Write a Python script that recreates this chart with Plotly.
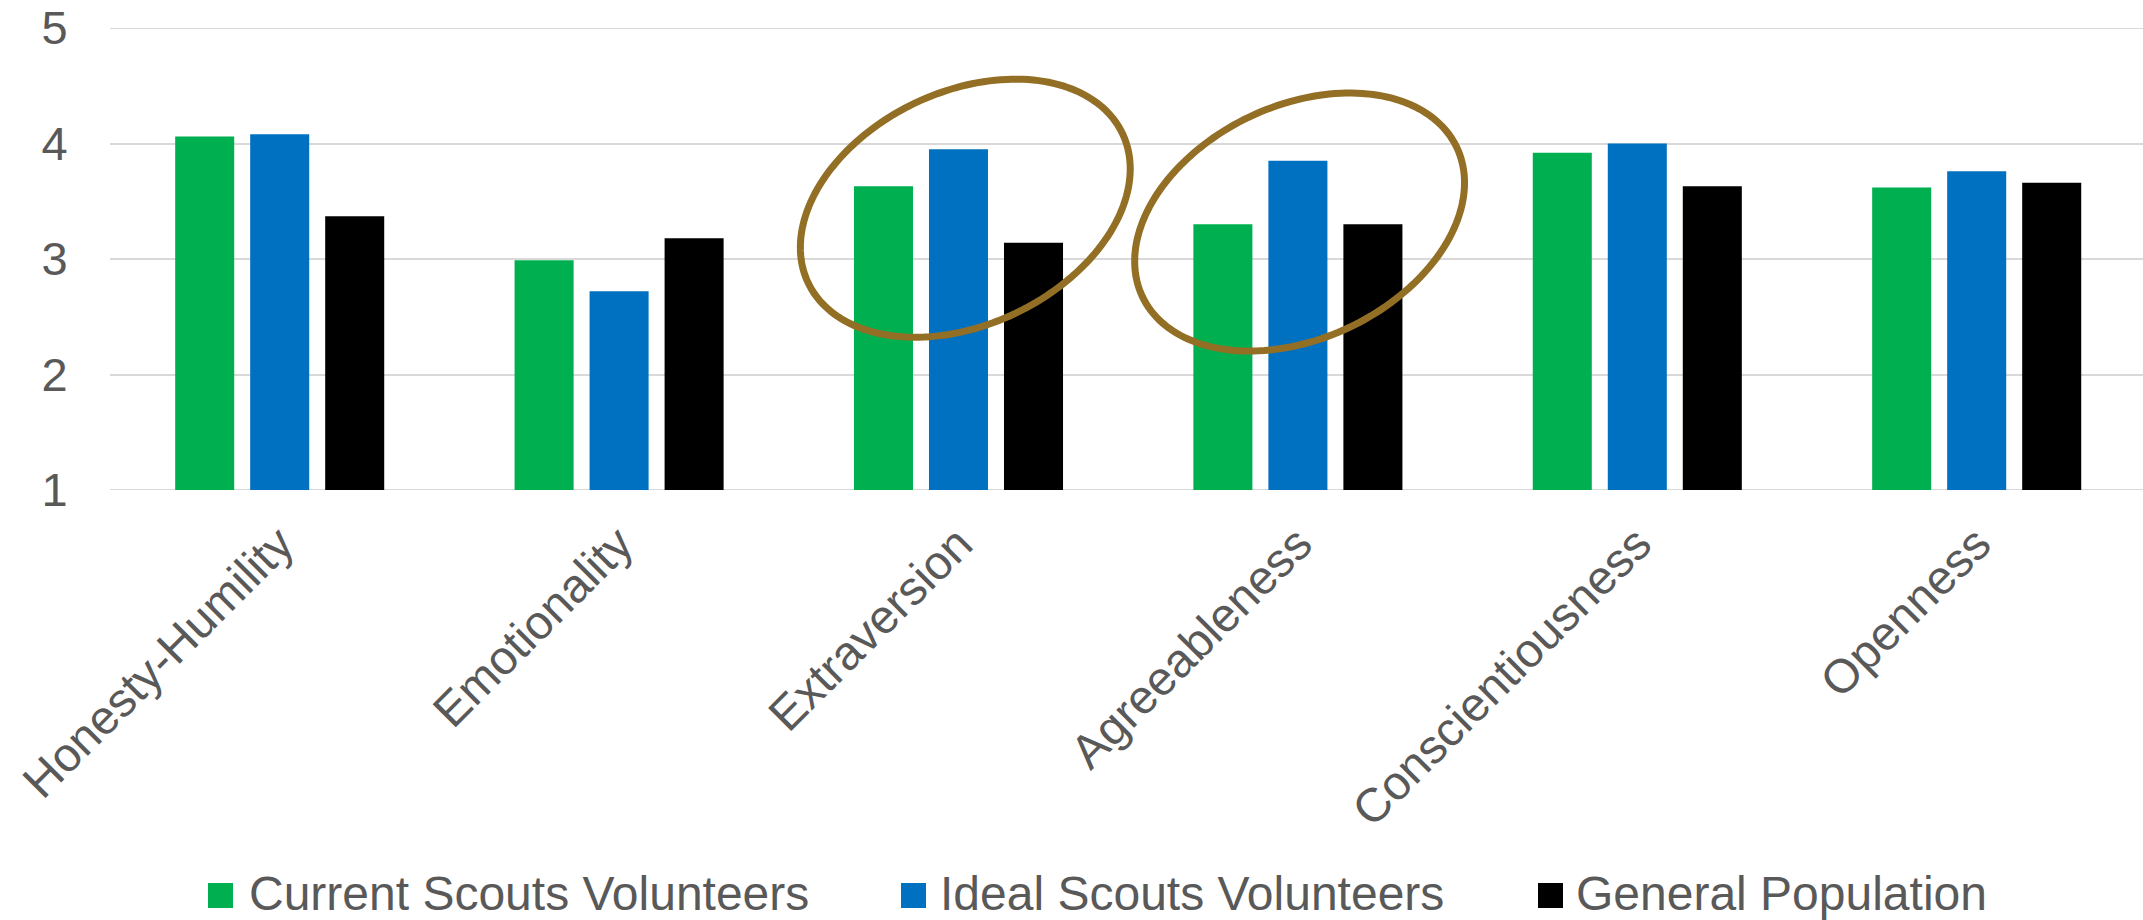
import numpy as np
import plotly.graph_objects as go

# HEXACO trait means
traits = ["Honesty-Humility", "Emotionality", "Extraversion",
          "Agreeableness", "Conscientiousness", "Openness"]
series_names = ["Current Scouts Volunteers", "Ideal Scouts Volunteers", "General Population"]
current_volunteers = [4.06, 2.99, 3.63, 3.30, 3.92, 3.62]
ideal_volunteers = [4.08, 2.72, 3.95, 3.85, 4.00, 3.76]
general_population = [3.37, 3.18, 3.14, 3.30, 3.63, 3.66]
y_ticks = [1, 2, 3, 4, 5]
highlighted = ["Extraversion", "Agreeableness"]

colors = ["#00B050", "#0070C0", "#000000"]
text_color = "#595959"
grid_color = "#D9D9D9"
ring_color = "#936F25"
font_family = "Arial, 'Liberation Sans', sans-serif"

W, H = 2143, 920
M_L, M_R, M_T, M_B = 110, 0, 28, 430
PW, PH = W - M_L - M_R, H - M_T - M_B
X_RANGE = [-0.5, 5.49]
Y_RANGE = [1, 5]


def paper_x(px):
    return (px - M_L) / PW


def paper_y(py):
    return (H - M_B - py) / PH


def cat_to_px(i):
    return M_L + (i - X_RANGE[0]) / (X_RANGE[1] - X_RANGE[0]) * PW


def val_to_px(v):
    return H - M_B - (v - Y_RANGE[0]) / (Y_RANGE[1] - Y_RANGE[0]) * PH


fig = go.Figure()
for name, vals, col in zip(series_names,
                           [current_volunteers, ideal_volunteers, general_population],
                           colors):
    fig.add_trace(go.Bar(
        x=traits, y=[v - Y_RANGE[0] for v in vals], base=Y_RANGE[0],
        name=name, marker=dict(color=col, line=dict(width=0)),
        showlegend=False,
    ))

shapes = []

# gridlines at the ends of the value range (plotly skips those at the edges)
for yv in (y_ticks[0], y_ticks[-1]):
    shapes.append(dict(type="line", xref="paper", yref="y", x0=0, x1=1, y0=yv, y1=yv,
                       line=dict(color=grid_color, width=2), layer="below"))

# tilted rings around the highlighted groups
def ring_path(cx, cy, a, b, theta_deg, n=180):
    th = np.radians(theta_deg)
    t = np.linspace(0, 2 * np.pi, n, endpoint=False)
    xs = cx + a * np.cos(t) * np.cos(th) - b * np.sin(t) * np.sin(th)
    ys = cy - (a * np.cos(t) * np.sin(th) + b * np.sin(t) * np.cos(th))
    pts = [f"{paper_x(x):.5f},{paper_y(y):.5f}" for x, y in zip(xs, ys)]
    return "M" + " L".join(pts) + " Z"

ring_offsets = {"Extraversion": (0.02, 3.44), "Agreeableness": (0.005, 3.32)}
for trait in highlighted:
    dx, yc = ring_offsets[trait]
    cx = cat_to_px(traits.index(trait) + dx)
    cy = val_to_px(yc)
    shapes.append(dict(type="path", xref="paper", yref="paper",
                       path=ring_path(cx, cy, 174, 116.5, 25.4),
                       line=dict(color=ring_color, width=7), layer="above"))

# legend row beneath the chart
legend_items = [(208, 247), (901, 938), (1538, 1574)]
annotations = []
for (sq_x, tx), name, col in zip(legend_items, series_names, colors):
    shapes.append(dict(type="rect", xref="paper", yref="paper",
                       x0=paper_x(sq_x), x1=paper_x(sq_x + 25),
                       y0=paper_y(908), y1=paper_y(883),
                       fillcolor=col, line=dict(width=0)))
    annotations.append(dict(xref="paper", yref="paper", x=paper_x(tx), y=paper_y(893),
                            xanchor="left", yanchor="middle", showarrow=False,
                            text=name, font=dict(size=48, color=text_color, family=font_family)))

fig.update_layout(
    width=W, height=H,
    margin=dict(l=M_L, r=M_R, t=M_T, b=M_B, pad=0),
    paper_bgcolor="white", plot_bgcolor="white",
    barmode="group", bargap=0.337, bargroupgap=0.213,
    font=dict(family=font_family, color=text_color, size=46),
    shapes=shapes, annotations=annotations,
    showlegend=False,
)
fig.update_xaxes(
    range=X_RANGE, tickangle=-45,
    tickfont=dict(size=47.5, color=text_color, family=font_family),
    ticks="outside", ticklen=6, tickcolor="rgba(0,0,0,0)",
    showgrid=False, showline=False, zeroline=False,
)
fig.update_yaxes(
    range=Y_RANGE, tickvals=y_ticks,
    tickfont=dict(size=47, color=text_color, family=font_family),
    ticks="outside", ticklen=32, tickcolor="rgba(0,0,0,0)",
    showgrid=True, gridcolor=grid_color, gridwidth=2,
    showline=False, zeroline=False,
)

fig.write_html("out.html")
